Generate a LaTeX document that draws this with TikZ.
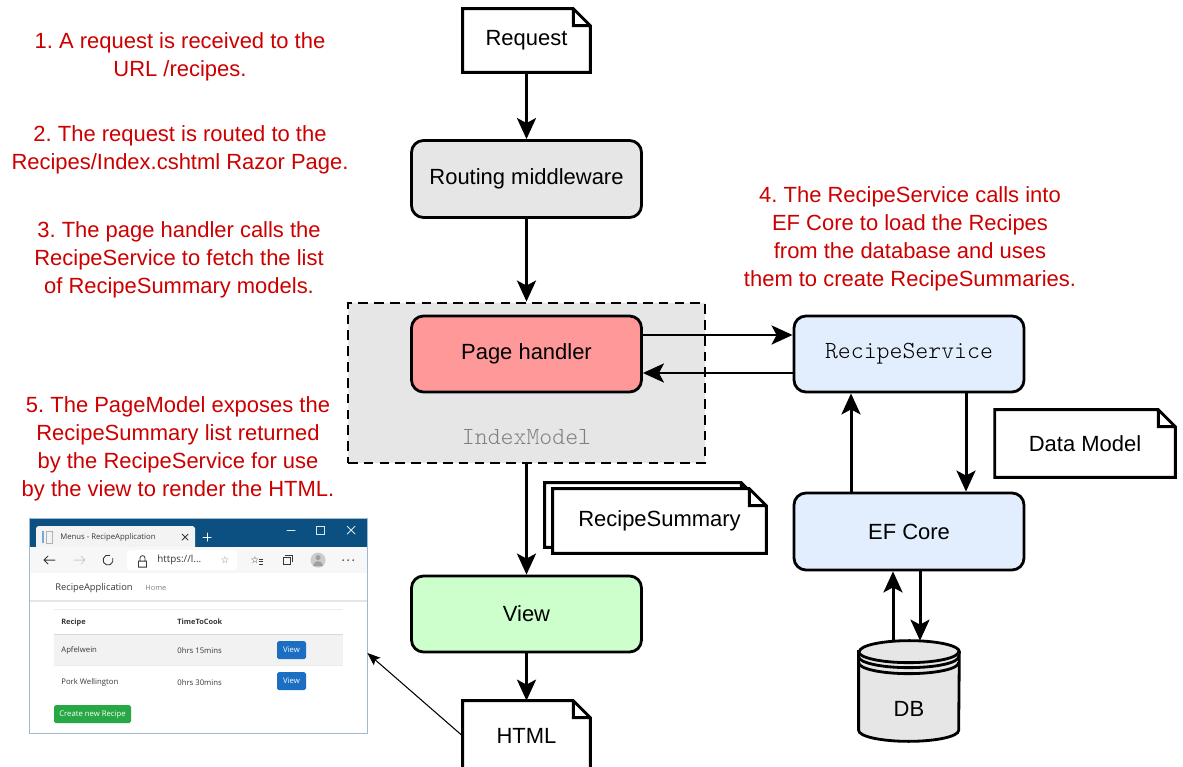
\documentclass[tikz,border=0pt]{standalone}
\usepackage{fontspec}
\setmainfont{Liberation Sans}
\newfontfamily\codefont{lmmonolt10-regular.otf}
\newfontfamily\uifont{Open Sans}
\newfontfamily\symfont{DejaVu Sans}
\usetikzlibrary{arrows.meta,calc}
\definecolor{rpred}{RGB}{204,0,0}
\definecolor{rpgray}{RGB}{230,230,230}
\definecolor{rphandler}{RGB}{255,153,153}
\definecolor{rpservice}{RGB}{226,238,253}
\definecolor{rpview}{RGB}{204,255,204}
\definecolor{rplabel}{RGB}{128,128,128}
\definecolor{uititle}{RGB}{12,80,130}
\definecolor{uitab}{RGB}{243,243,243}
\definecolor{uibar}{RGB}{247,247,247}
\definecolor{uiframe}{RGB}{160,185,210}
\definecolor{uitext}{RGB}{55,55,55}
\definecolor{uibtn}{RGB}{27,110,194}
\definecolor{uigreen}{RGB}{40,167,69}
\definecolor{uirow}{RGB}{242,242,242}

\frenchspacing
\newcommand{\mainsize}{\fontsize{12.5}{15.9}\selectfont}
\newcommand{\codesize}{\codefont\fontsize{14}{16}\selectfont}
% folded-corner outline around a document node
\newcommand{\dogear}[1]{%
  \draw[docline] (#1.south west) -- (#1.north west) -- ([xshift=-0.34cm]#1.north east)
    -- ([yshift=-0.34cm]#1.north east) -- (#1.south east) -- cycle
    ([xshift=-0.34cm]#1.north east) |- ([yshift=-0.34cm]#1.north east);}

\begin{document}
\begin{tikzpicture}[
  font=\mainsize,
  stage/.style={draw, line width=1.6pt, rounded corners=0.24cm, minimum width=4.6cm, minimum height=1.54cm},
  docnode/.style={fill=white, inner sep=0pt, minimum width=2.54cm, minimum height=1.26cm},
  docline/.style={line width=1.6pt, line join=miter},
  note/.style={text=rpred, align=center},
  link/.style={line width=1.7pt, -{Stealth[length=0.42cm, width=0.38cm, inset=0.1cm]}},
  thinlink/.style={line width=0.6pt, -{Stealth[length=0.26cm, width=0.2cm, inset=0.05cm]}},
  ui/.style={font=\uifont\fontsize{4.4}{5}\selectfont, text=uitext, inner sep=0pt, anchor=west},
  uiline/.style={line width=0.5pt, line cap=round}
]
\useasboundingbox (0,0) rectangle (23.66,15.32);

% numbered steps
\node[note] (step1) at (3.6,14.18) {1. A request is received to the\\URL /recipes.};
\node[note] (step2) at (3.6,12.32) {2. The request is routed to the\\Recipes/Index.cshtml Razor Page.};
\node[note] (step3) at (3.58,10.12) {3. The page handler calls the\\RecipeService to fetch the list\\of RecipeSummary models.};
\node[note] (step4) at (18.2,10.54) {4. The RecipeService calls into\\EF Core to load the Recipes\\from the database and uses\\them to create RecipeSummaries.};
\node[note] (step5) at (3.56,6.34) {5. The PageModel exposes the\\RecipeSummary list returned\\by the RecipeService for use\\by the view to render the HTML.};

% request pipeline
\node[docnode] (request) at (10.53,14.51) {Request};
\dogear{request}
\node[stage, fill=rpgray] (routing) at (10.53,11.74) {Routing middleware};
\node[draw, dash pattern=on 5.5pt off 3.5pt, line width=1.6pt, fill=rpgray, minimum width=7.14cm, minimum height=3.2cm] (indexmodel) at (10.53,7.66) {};
\node[font=\codesize, text=rplabel] (indexlabel) at (10.53,6.58) {IndexModel};
\node[stage, fill=rphandler, minimum height=1.52cm] (handler) at (10.53,8.24) {Page handler};
\node[stage, fill=rpservice, minimum height=1.52cm, font=\codesize] (service) at (18.18,8.24) {RecipeService};
\node[stage, fill=rpservice] (efcore) at (18.18,4.69) {EF Core};
\node[docnode, minimum width=3.6cm, minimum height=1.34cm] (datamodel) at (21.7,6.45) {Data Model};
\dogear{datamodel}
\node[stage, fill=rpview, minimum height=1.52cm] (view) at (10.53,3.04) {View};
\node[docnode, minimum width=4.26cm, minimum height=1.28cm] (summaryback) at (13.03,5.02) {};
\dogear{summaryback}
\node[docnode, minimum width=4.26cm, minimum height=1.28cm] (summary) at (13.19,4.90) {RecipeSummary};
\dogear{summary}
\node[docnode, minimum height=1.4cm] (html) at (10.53,0.6) {HTML};
\dogear{html}

% database cylinder
\node[inner sep=0pt, minimum width=2cm, minimum height=2cm] (db) at (18.18,1.5) {};
\filldraw[fill=rpgray, line width=1.6pt] ($(db.north west)+(0,-0.22)$) -- ($(db.south west)+(0,0.22)$)
  arc[start angle=180, end angle=360, x radius=1cm, y radius=0.22cm]
  -- ($(db.north east)+(0,-0.22)$)
  arc[start angle=0, end angle=180, x radius=1cm, y radius=0.22cm] -- cycle;
\foreach \ring in {0.22,0.32,0.44}
  \draw[line width=1.6pt] ($(db.north west)+(0,-\ring)$) arc[start angle=180, end angle=360, x radius=1cm, y radius=0.22cm];
\node (dbtext) at (18.18,1.14) {DB};

% connectors
\draw[link] (request) -- (routing);
\draw[link] (routing) -- (indexmodel);
\draw[link] ([yshift=0.38cm]handler.east) -- ([yshift=0.38cm]service.west);
\draw[link] ([yshift=-0.38cm]service.west) -- ([yshift=-0.38cm]handler.east);
\draw[link] ([xshift=1.14cm]service.south) -- ([xshift=1.14cm]efcore.north);
\draw[link] ([xshift=-1.16cm]efcore.north) -- ([xshift=-1.16cm]service.south);
\draw[link] ([xshift=-0.32cm]db.north) -- ([xshift=-0.32cm]efcore.south);
\draw[link] ([xshift=0.22cm]efcore.south) -- ([xshift=0.22cm]db.north);
\draw[link] (indexmodel) -- (view);
\draw[link] (view) -- (html);

% rendered page in the browser
\node[fill=white, inner sep=0pt, minimum width=6.74cm, minimum height=4.28cm] (browser) at (3.97,2.8) {};
\begin{scope}[shift={(0,15.32)}, x=0.02cm, y=-0.02cm]
  % title bar and tab
  \fill[uititle] (30,519) rectangle (367,547);
  \fill[uitab, rounded corners=1.5pt] (36,547) -- (36,526) -- (195,526) -- (195,547);
  \fill[uibtn!60] (42,531) rectangle (44,543);
  \draw[gray!60, line width=0.4pt] (46,531) rectangle (52,543);
  \node[ui] (tabtitle) at (60,537) {Menus - RecipeApplication};
  \draw[uiline, uitext] (182,534) -- (188,540) (182,540) -- (188,534);
  \draw[uiline, white] (203,537) -- (211,537) (207,533) -- (207,541);
  \draw[uiline, white!85!uititle] (287,530) -- (295,530);
  \draw[line width=0.5pt, white!85!uititle] (316,526) rectangle (324,534);
  \draw[uiline, white!85!uititle] (347,526) -- (355,534) (347,534) -- (355,526);
  % toolbar
  \fill[uibar] (30,547) rectangle (367,573);
  \draw[uiline, uitext] (55,560) -- (44,560) (48,556) -- (44,560) -- (48,564);
  \draw[uiline, gray!40] (74,560) -- (85,560) (81,556) -- (85,560) -- (81,564);
  \draw[uiline, uitext] ([shift={(70:0.1cm)}]108,560) arc[start angle=70, end angle=380, radius=0.1cm];
  \fill[white, rounded corners=1.5pt] (127,550) rectangle (237,570);
  \draw[line width=0.45pt, uitext] (138.5,561) rectangle (146.5,567)
    (140,561) -- (140,558) arc[start angle=180, end angle=0, radius=0.05cm] -- (145,561);
  \node[ui, font=\uifont\fontsize{5.6}{6}\selectfont] (address) at (157,560) {https://l...};
  \node[font=\symfont\fontsize{5.5}{5.5}\selectfont, text=gray, inner sep=0pt] (favstar) at (225,560) {☆};
  \node[font=\symfont\fontsize{5.5}{5.5}\selectfont, text=uitext, inner sep=0pt] (favlist) at (255,560) {☆};
  \draw[line width=0.4pt, uitext] (259,559) -- (263,559) (259,561.5) -- (263,561.5) (259,564) -- (263,564);
  \draw[line width=0.45pt, uitext] (283,557) rectangle (290,564) (285,555) -- (292,555) -- (292,562);
  \fill[gray!40] (318,560) circle[radius=0.15cm];
  \fill[gray!75] (318,557.5) circle[radius=0.05cm];
  \fill[gray!75] (313,566) arc[start angle=180, end angle=0, radius=0.1cm] -- cycle;
  \fill[uitext] (343,560) circle[radius=0.018cm] (348,560) circle[radius=0.018cm] (353,560) circle[radius=0.018cm];
  % page body
  \node[ui, font=\uifont\fontsize{5.3}{6}\selectfont] (brand) at (55,588) {RecipeApplication};
  \node[ui, font=\uifont\fontsize{4.2}{5}\selectfont, text=gray] (home) at (145,588) {Home};
  \draw[gray!20, line width=0.8pt] (30,601) -- (367,601);
  \draw[gray!15, line width=0.4pt] (54,609) -- (343,609);
  \node[ui, font=\uifont\bfseries\fontsize{4.2}{5}\selectfont] (colrecipe) at (61,622) {Recipe};
  \node[ui, font=\uifont\bfseries\fontsize{4.2}{5}\selectfont] (coltime) at (177,622) {TimeToCook};
  \fill[uirow] (54,634) rectangle (343,665);
  \draw[gray!30, line width=0.6pt] (54,634) -- (343,634);
  \draw[gray!15, line width=0.4pt] (54,665) -- (343,665);
  \node[ui] (name1) at (61,650) {Apfelwein};
  \node[ui] (time1) at (177,650) {0hrs 15mins};
  \fill[uibtn, rounded corners=1pt] (277,641) rectangle (306,659);
  \node[ui, anchor=center, text=white] (view1) at (291.5,650) {View};
  \node[ui] (name2) at (61,682) {Pork Wellington};
  \node[ui] (time2) at (177,682) {0hrs 30mins};
  \fill[uibtn, rounded corners=1pt] (277,672) rectangle (306,690);
  \node[ui, anchor=center, text=white] (view2) at (291.5,681) {View};
  \fill[uigreen, rounded corners=1pt] (54,705) rectangle (131,723);
  \node[ui, anchor=center, text=white] (newrecipe) at (92.5,714) {Create new Recipe};
\end{scope}
\draw[uiframe, line width=0.6pt] (browser.south west) rectangle (browser.north east);
\draw[thinlink] (html.west) -- ([yshift=-0.54cm]browser.east);
\end{tikzpicture}
\end{document}
